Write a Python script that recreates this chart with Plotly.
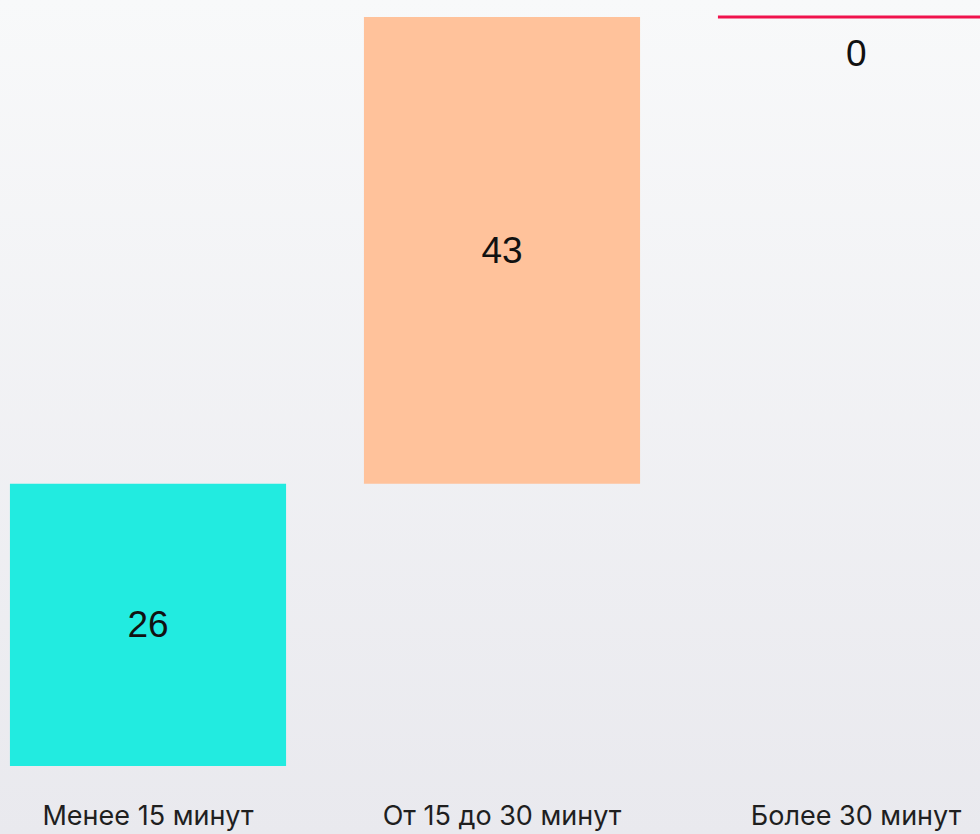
import base64
import plotly.graph_objects as go

# data
categories = ["Менее 15 минут", "От 15 до 30 минут", "Более 30 минут"]
values = [26, 43, 0]
bar_colors = ["#22ebe0", "#ffc29b", "rgba(0,0,0,0)"]
line_colors = ["rgba(0,0,0,0)", "rgba(0,0,0,0)", "#f0124d"]
line_widths = [0, 0, 3]

# waterfall-like bases
bases = []
run = 0
for v in values:
    bases.append(run)
    run += v

# soft vertical gradient for the background
svg = (
    '<svg xmlns="http://www.w3.org/2000/svg" width="10" height="100" preserveAspectRatio="none">'
    '<defs><linearGradient id="g" x1="0" y1="0" x2="0" y2="1">'
    '<stop offset="0" stop-color="#f8f9fa"/><stop offset="1" stop-color="#e9e9ee"/>'
    '</linearGradient></defs><rect width="10" height="100" fill="url(#g)"/></svg>'
)
bg_src = "data:image/svg+xml;base64," + base64.b64encode(svg.encode()).decode()

val_font = dict(family="Liberation Sans, Arial", size=37, color="#111111")

fig = go.Figure(go.Bar(
    x=list(range(len(categories))),
    y=values,
    base=bases,
    width=0.78,
    marker=dict(color=bar_colors, line=dict(color=line_colors, width=line_widths)),
    text=[str(v) if v else "" for v in values],
    textposition="inside",
    insidetextanchor="middle",
    textfont=val_font,
    cliponaxis=False,
    hoverinfo="skip",
))

# zero-height bars get their label just under the line
for i, v in enumerate(values):
    if v == 0:
        fig.add_annotation(x=i, y=bases[i], text=str(v), showarrow=False,
                           yshift=-36, font=val_font)

fig.add_layout_image(dict(
    source=bg_src, xref="paper", yref="paper", x=0, y=1,
    sizex=1, sizey=834 / 766, sizing="stretch", layer="below", xanchor="left", yanchor="top",
))

fig.update_layout(
    width=980, height=834,
    margin=dict(l=0, r=0, t=0, b=68),
    paper_bgcolor="#eeeef2", plot_bgcolor="rgba(0,0,0,0)",
    showlegend=False,
    xaxis=dict(
        range=[-148 / 354, 832 / 354], tickvals=list(range(len(categories))), ticktext=categories,
        showgrid=False, zeroline=False, showline=False, ticks="", ticklabelstandoff=31,
        automargin=False,
        tickfont=dict(family="Inter, Noto Sans", size=27, color="#1f1f1f"),
    ),
    yaxis=dict(range=[0, 70.566], visible=False, automargin=False),
)

fig.write_html("out.html", config={"displayModeBar": False},
               post_script="document.body.style.margin='0';")
